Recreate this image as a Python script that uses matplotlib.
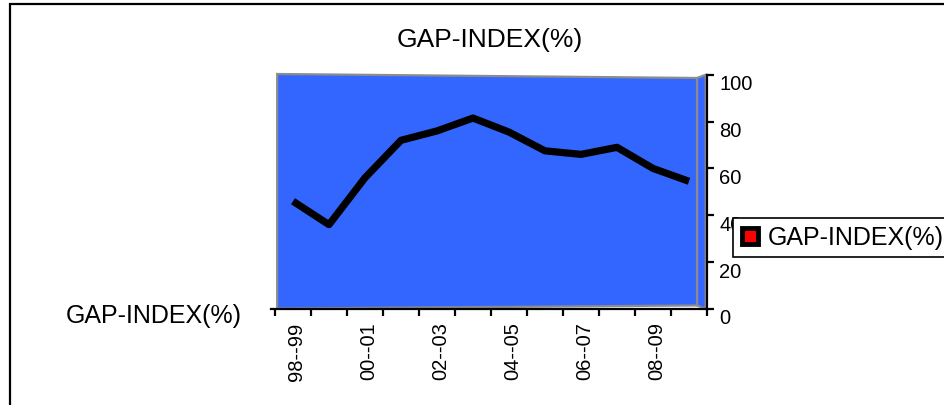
import numpy as np
import matplotlib.pyplot as plt
from matplotlib.patches import Polygon, Rectangle
from matplotlib.lines import Line2D
from matplotlib.transforms import ScaledTranslation

plt.rcParams['font.family'] = ['Liberation Sans', 'DejaVu Sans']

# data
years = ['98--99', '99--00', '00--01', '01--02', '02--03', '03--04',
         '04--05', '05--06', '06--07', '07--08', '08--09', '09--10']
gap_index = [46, 36, 56, 72, 76, 81.5, 75.5, 67.5, 66, 69, 60, 54.5]
y_ticks = [0, 20, 40, 60, 80, 100]
series_name = 'GAP-INDEX(%)'

W, H = 945, 406
fig = plt.figure(figsize=(W / 100, H / 100), dpi=100)

# axes box in pixels (x-axis line at y=310, right y-axis at x=707)
x0, x1, ytop, ybot = 275, 707, 75.7, 310
ax = fig.add_axes([x0 / W, 1 - ybot / H, (x1 - x0) / W, (ybot - ytop) / H])
ax.set_xlim(-0.5, len(years) - 0.5)
ax.set_ylim(0, 100)
ax.patch.set_visible(False)

# 3d-ish back wall and side wall
back = Polygon([(0.005, 0.002), (0.005, 1.003), (0.977, 0.986), (0.977, 0.015)],
               closed=True, transform=ax.transAxes, facecolor='#3366ff',
               edgecolor='#8c8c8c', lw=1.6, zorder=0, clip_on=False)
side = Polygon([(0.977, 0.015), (0.977, 0.986), (0.997, 1.0), (0.997, 0.0)],
               closed=True, transform=ax.transAxes, facecolor='#3366ff',
               edgecolor='#8c8c8c', lw=1.6, zorder=0, clip_on=False)
ax.add_patch(back)
ax.add_patch(side)

x = np.arange(len(years))
ax.plot(x, gap_index, color='black', lw=5.2, zorder=3, solid_capstyle='butt')

# spines
for s in ['top', 'left']:
    ax.spines[s].set_visible(False)
ax.spines['bottom'].set_linewidth(1.6)
ax.spines['right'].set_linewidth(1.6)
ax.spines['bottom'].set_bounds(-0.6, len(years) - 0.5)

# y axis on the right
ax.yaxis.tick_right()
ax.set_yticks(y_ticks)
ax.tick_params(axis='y', direction='out', length=5, width=1.6, pad=4, labelsize=14.5)
offset = ScaledTranslation(0, -7 / 100, fig.dpi_scale_trans)
for lab in ax.get_yticklabels():
    lab.set_transform(lab.get_transform() + offset)

# x ticks at category edges, labels every other category
ax.set_xticks(np.arange(len(years) + 1) - 0.5)
ax.set_xticklabels([])
ax.set_xticks(x[::2], minor=True)
ax.set_xticklabels(years[::2], minor=True, rotation=90, fontsize=14.5)
ax.tick_params(axis='x', which='major', direction='out', length=5, width=1.6)
ax.tick_params(axis='x', which='minor', length=0, pad=9)
xoff = ScaledTranslation(4 / 100, 0, fig.dpi_scale_trans)
for lab in ax.get_xticklabels(minor=True):
    lab.set_transform(lab.get_transform() + xoff)

# texts
fig.text(490 / W, 1 - 47 / H, series_name, ha='center', va='baseline', fontsize=19)
fig.text(66 / W, 1 - 322.7 / H, series_name, ha='left', va='baseline', fontsize=18)

# legend
handle = Line2D([], [], marker='s', color='none', markerfacecolor='red',
                markeredgecolor='black', markeredgewidth=3.5, markersize=11)
leg = fig.legend([handle], [series_name], loc='center left',
                 bbox_to_anchor=(733 / W, 1 - 238.5 / H), fontsize=18,
                 frameon=True, fancybox=False, handlelength=0.8,
                 handletextpad=0.3, borderpad=0.3, borderaxespad=0,
                 framealpha=1)
leg.get_frame().set_edgecolor('black')
leg.get_frame().set_linewidth(1.2)
leg.set_zorder(10)

# outer frame of the chart
fig.add_artist(Rectangle((10 / W, -0.2), 1.2, 1.2 - 5 / H, transform=fig.transFigure,
                         fill=False, edgecolor='black', lw=1.6, clip_on=False))

fig.savefig('out.png', dpi=100)
